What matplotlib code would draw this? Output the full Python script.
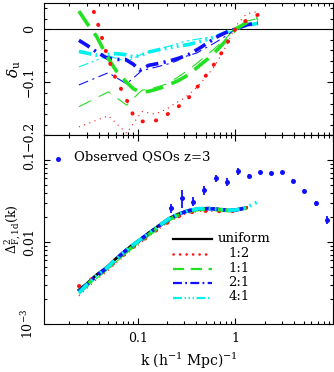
import matplotlib
matplotlib.use("Agg")
import matplotlib.pyplot as plt
from matplotlib.ticker import FixedLocator, FixedFormatter, MultipleLocator, LogLocator, NullFormatter
from matplotlib.lines import Line2D

plt.rcParams['font.family'] = ['DejaVu Serif']
plt.rcParams['mathtext.fontset'] = 'dejavuserif'

# ---------------- data: top panel (delta_u) ----------------
k_thick = [0.025, 0.03, 0.038, 0.048, 0.06, 0.075, 0.09, 0.105, 0.13, 0.17,
           0.21, 0.26, 0.33, 0.42, 0.53, 0.67, 0.85, 1.0, 1.3, 1.7]
du_red_thick = [0.12, 0.07, 0.018, -0.046, -0.095, -0.128, -0.162, -0.173, -0.175, -0.170,
                -0.158, -0.146, -0.130, -0.106, -0.081, -0.055, -0.022, 0.0, 0.017, 0.027]
du_green_thick = [0.034, 0.012, -0.014, -0.05, -0.078, -0.098, -0.112, -0.118, -0.117, -0.111,
                  -0.104, -0.097, -0.086, -0.07, -0.055, -0.037, -0.016, 0.0, 0.012, 0.02]
du_blue_thick = [-0.021, -0.03, -0.043, -0.054, -0.057, -0.057, -0.066, -0.077, -0.068, -0.064,
                 -0.06, -0.055, -0.048, -0.037, -0.025, -0.013, -0.004, 0.0, 0.008, 0.012]
du_cyan_thick = [-0.042, -0.045, -0.049, -0.048, -0.046, -0.048, -0.052, -0.05, -0.043, -0.038,
                 -0.035, -0.032, -0.029, -0.024, -0.019, -0.012, -0.004, 0.0, 0.007, 0.011]

k_thin = [0.025, 0.05, 0.077, 0.11, 0.15, 0.2, 0.25, 0.3, 0.4, 0.5, 0.6, 0.8, 1.0, 1.3, 1.7]
du_red_thin = [-0.184, -0.163, -0.196, -0.155, -0.16, -0.15, -0.138, -0.13, -0.11, -0.09,
               -0.072, -0.033, 0.005, 0.029, 0.033]
du_green_thin = [-0.146, -0.118, -0.143, -0.115, -0.11, -0.103, -0.092, -0.082, -0.065, -0.05,
                 -0.038, -0.017, 0.002, 0.015, 0.02]
du_blue_thin = [-0.105, -0.082, -0.103, -0.078, -0.072, -0.066, -0.06, -0.052, -0.045, -0.035,
                -0.027, -0.013, 0.0, 0.008, 0.011]
du_cyan_thin = [-0.071, -0.05, -0.061, -0.047, -0.04, -0.033, -0.028, -0.023, -0.019, -0.016,
                -0.014, -0.008, 0.0, 0.008, 0.011]

# ---------------- data: bottom panel (Delta^2_F,1d) ----------------
k_pf = [0.025, 0.03, 0.038, 0.048, 0.06, 0.075, 0.09, 0.105, 0.13, 0.17,
        0.21, 0.26, 0.33, 0.42, 0.53, 0.67, 0.85, 1.0, 1.3]
k_pf_cyan = k_pf + [1.7]
pf_uniform = [0.0026, 0.0031, 0.0040, 0.0049, 0.0063, 0.0079, 0.0094, 0.0107, 0.0130, 0.0163,
              0.0195, 0.0220, 0.0243, 0.0256, 0.0258, 0.0253, 0.0245, 0.0245, 0.0262]
pf_red = [0.0029, 0.0032, 0.0039, 0.0046, 0.0059, 0.0073, 0.0087, 0.0098, 0.0120, 0.0150,
          0.0178, 0.0205, 0.0228, 0.0238, 0.0240, 0.0238, 0.0235, 0.0240, 0.0262]
pf_green = [0.0025, 0.0030, 0.0038, 0.0047, 0.0060, 0.0075, 0.0089, 0.0102, 0.0124, 0.0156,
            0.0188, 0.0213, 0.0237, 0.0250, 0.0252, 0.0248, 0.0242, 0.0243, 0.0262]
pf_blue = [0.0025, 0.0030, 0.0039, 0.0048, 0.0062, 0.0078, 0.0092, 0.0105, 0.0128, 0.0161,
           0.0192, 0.0218, 0.0241, 0.0254, 0.0256, 0.0251, 0.0244, 0.0245, 0.0262]
pf_cyan = [0.0024, 0.0030, 0.0039, 0.0048, 0.0062, 0.0078, 0.0093, 0.0106, 0.0129, 0.0162,
           0.0194, 0.0220, 0.0243, 0.0256, 0.0258, 0.0252, 0.0245, 0.0246, 0.0265, 0.031]
pf_red_thin = [0.0022, 0.0027, 0.0035, 0.0043, 0.0055, 0.0069, 0.0083, 0.0095, 0.0117, 0.0148,
               0.0176, 0.0203, 0.0226, 0.0236, 0.0238, 0.0236, 0.0234, 0.0239, 0.026]
pf_green_thin = [0.0023, 0.0028, 0.0036, 0.0045, 0.0057, 0.0072, 0.0086, 0.0099, 0.0121, 0.0153,
                 0.0185, 0.0211, 0.0235, 0.0248, 0.0250, 0.0246, 0.0241, 0.0242, 0.026]

k_obs = [0.219, 0.286, 0.371, 0.481, 0.628, 0.814, 1.056, 1.377, 1.785, 2.31,
         3.02, 3.92, 5.07, 6.63, 8.6]
pf_obs = [0.0259, 0.0343, 0.0312, 0.0430, 0.0597, 0.0542, 0.0727, 0.0643, 0.0706, 0.0687,
          0.0706, 0.0558, 0.0418, 0.0298, 0.0186]
err_obs = [0.0035, 0.0085, 0.004, 0.0055, 0.006, 0.006, 0.007, 0.004, 0.003, 0.003,
           0.003, 0.003, 0.002, 0.002, 0.002]

legend_labels = ['uniform', '1:2', '1:1', '2:1', '4:1']

# ---------------- styles ----------------
RED = '#ff1010'
GREEN = '#22e022'
BLUE = '#1010ff'
CYAN = '#00f0f0'

st_red_thick = dict(color=RED, lw=2.8, linestyle=(0, (0.1, 3.4)), dash_capstyle='round')
st_green_thick = dict(color=GREEN, lw=2.6, linestyle=(0, (5, 2.5)))
st_blue_thick = dict(color=BLUE, lw=2.6, linestyle=(0, (3.5, 1.5, 0.6, 1.5)))
st_cyan_thick = dict(color=CYAN, lw=2.6, linestyle=(0, (3.5, 1.2, 0.5, 1.2, 0.5, 1.2, 0.5, 1.2)))

st_red_thin = dict(color=RED, lw=0.8, linestyle=(0, (1, 4)))
st_green_thin = dict(color=GREEN, lw=0.8, linestyle=(0, (12, 8)))
st_blue_thin = dict(color=BLUE, lw=0.8, linestyle=(0, (9, 4, 2, 4)))
st_cyan_thin = dict(color=CYAN, lw=0.8, linestyle=(0, (9, 3, 2, 3, 2, 3, 2, 3)))

fig = plt.figure(figsize=(3.34, 3.72), dpi=100)
L, R = 0.132, 0.997
ax1 = fig.add_axes([L, 0.636, R - L, 0.357])
ax2 = fig.add_axes([L, 0.129, R - L, 0.507])

# ---- top panel ----
ax1.axhline(0, color='black', lw=0.8)
ax1.plot(k_thin, du_red_thin, **st_red_thin)
ax1.plot(k_thin, du_green_thin, **st_green_thin)
ax1.plot(k_thin, du_blue_thin, **st_blue_thin)
ax1.plot(k_thin, du_cyan_thin, **st_cyan_thin)
ax1.plot(k_thick, du_cyan_thick, **st_cyan_thick)
ax1.plot(k_thick, du_blue_thick, **st_blue_thick)
ax1.plot(k_thick, du_green_thick, **st_green_thick)
ax1.plot(k_thick, du_red_thick, **st_red_thick)

ax1.set_xscale('log')
ax1.set_xlim(0.011, 10)
ax1.set_ylim(-0.2, 0.05)
ax1.yaxis.set_major_locator(FixedLocator([-0.2, -0.1, 0.0]))
ax1.yaxis.set_major_formatter(FixedFormatter(['\u22120.2', '\u22120.1', '0']))
ax1.yaxis.set_minor_locator(MultipleLocator(0.02))
ax1.set_ylabel(r'$\delta_{\rm u}$', fontsize=11)
ax1.yaxis.set_label_coords(-0.072, 0.5)

# ---- bottom panel ----
ax2.plot(k_pf, pf_red_thin, **st_red_thin)
ax2.plot(k_pf, pf_green_thin, **st_green_thin)
ax2.plot(k_pf, pf_uniform, color='black', lw=2.0)
ax2.plot(k_pf, pf_red, **st_red_thick)
ax2.plot(k_pf, pf_green, **st_green_thick)
ax2.plot(k_pf, pf_blue, **st_blue_thick)
ax2.plot(k_pf_cyan, pf_cyan, **st_cyan_thick)

ax2.errorbar(k_obs, pf_obs, yerr=err_obs, fmt='o', color=BLUE, ms=3.6,
             elinewidth=1.3, capsize=0, mew=0)

ax2.set_xscale('log')
ax2.set_yscale('log')
ax2.set_xlim(0.011, 10)
ax2.set_ylim(1e-3, 0.2)
ax2.yaxis.set_major_locator(FixedLocator([1e-3, 1e-2, 1e-1]))
ax2.yaxis.set_major_formatter(FixedFormatter([r'10$^{-3}$', '0.01', '0.1']))
ax2.yaxis.set_minor_locator(LogLocator(base=10, subs=range(2, 10)))
ax2.yaxis.set_minor_formatter(NullFormatter())
ax2.set_ylabel(r'$\Delta^2_{\rm F,1d}$(k)', fontsize=9)
ax2.yaxis.set_label_coords(-0.072, 0.5)
ax2.set_xlabel(r'k (h$^{-1}$ Mpc)$^{-1}$', fontsize=10, labelpad=4)

for ax in (ax1, ax2):
    ax.xaxis.set_major_locator(FixedLocator([0.1, 1, 10]))
    ax.xaxis.set_minor_locator(LogLocator(base=10, subs=range(2, 10)))
    ax.xaxis.set_minor_formatter(NullFormatter())
    ax.tick_params(which='both', direction='in', top=True, right=True, width=0.8)
    ax.tick_params(which='major', length=4.5)
    ax.tick_params(which='minor', length=2.5)
    ax.tick_params(axis='y', labelrotation=90, labelsize=9, pad=6)
    for lab in ax.get_yticklabels():
        lab.set_va('center')
    for s in ax.spines.values():
        s.set_linewidth(0.8)

ax1.tick_params(axis='x', labelbottom=False)
ax2.xaxis.set_major_formatter(FixedFormatter(['0.1', '1', '']))
ax2.tick_params(axis='x', labelsize=9, pad=6)

# legend (drawn manually)
ax2.plot([0.0495], [0.875], 'o', color=BLUE, ms=3.6, mew=0, transform=ax2.transAxes, clip_on=False)
ax2.text(0.104, 0.889, 'Observed QSOs z=3', transform=ax2.transAxes, fontsize=9.5,
         va='center', ha='left')

leg_styles = [dict(color='black', lw=1.6),
              dict(color=RED, lw=1.8, linestyle=(0, (0.1, 2.5)), dash_capstyle='round'),
              dict(color=GREEN, lw=1.6, linestyle=(0, (5, 3))),
              dict(color=BLUE, lw=1.6, linestyle=(0, (4, 1.5, 0.8, 1.5))),
              dict(color=CYAN, lw=1.6, linestyle=(0, (4, 1.2, 0.6, 1.2, 0.6, 1.2, 0.6, 1.2)))]
leg_y = [0.449, 0.371, 0.290, 0.216, 0.139]
leg_tx = [0.602, 0.637, 0.637, 0.637, 0.637]
for lab, st, yy, tx in zip(legend_labels, leg_styles, leg_y, leg_tx):
    ax2.add_line(Line2D([0.446, 0.581], [yy, yy], transform=ax2.transAxes, **st))
    ax2.text(tx, yy + 0.005, lab, transform=ax2.transAxes, fontsize=9.5, va='center', ha='left')

fig.savefig('out.png', dpi=100)
